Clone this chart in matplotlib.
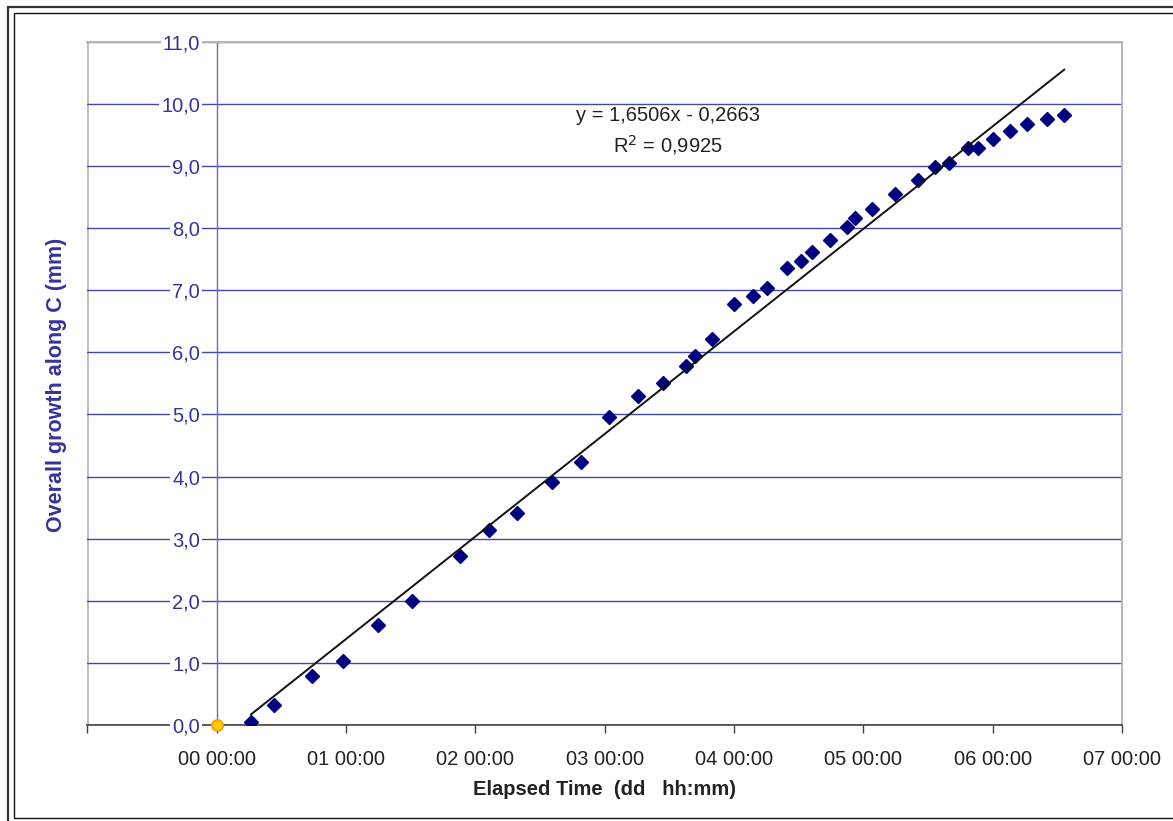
import numpy as np
import matplotlib
matplotlib.use("Agg")
from matplotlib import pyplot as plt
from matplotlib.patches import Rectangle
from matplotlib.ticker import FuncFormatter

plt.rcParams["font.family"] = ["Liberation Sans", "DejaVu Sans"]

# elapsed time in days, growth in mm
days = [0.265, 0.445, 0.737, 0.977, 1.245, 1.508, 1.88, 2.103, 2.32, 2.596,
        2.815, 3.034, 3.256, 3.452, 3.627, 3.70, 3.828, 4.00, 4.145, 4.256,
        4.408, 4.519, 4.606, 4.74, 4.87, 4.937, 5.07, 5.247, 5.42, 5.553,
        5.664, 5.808, 5.888, 6.002, 6.133, 6.267, 6.419, 6.553]
growth = [0.05, 0.33, 0.79, 1.035, 1.61, 2.00, 2.72, 3.14, 3.42, 3.91,
          4.24, 4.955, 5.30, 5.51, 5.78, 5.94, 6.21, 6.77, 6.91, 7.04,
          7.35, 7.47, 7.61, 7.80, 8.02, 8.16, 8.31, 8.55, 8.78, 8.99,
          9.05, 9.29, 9.29, 9.44, 9.57, 9.67, 9.76, 9.82]
slope, intercept = 1.6506, -0.2663
r2 = 0.9925
origin = (0.0, 0.0)
yticks = list(range(0, 12))

blue = "#333399"
dark = "#222222"

fig = plt.figure(figsize=(11.73, 8.21), dpi=100)
ax = fig.add_axes([0.0745, 0.1169, 0.882, 0.8323])

# frame around the chart (pixel coords -> figure fraction)
W, H = 1173, 821
fig.patches.append(Rectangle((8 / W, 1 - 830 / H), 1.2, (830 - 7) / H,
                             transform=fig.transFigure, fill=False,
                             edgecolor="#333333", lw=1.6, clip_on=False))
fig.patches.append(Rectangle((14 / W, 1 - 818 / H), 1.2, (818 - 13) / H,
                             transform=fig.transFigure, fill=False,
                             edgecolor="#111111", lw=1.0, clip_on=False))

ax.set_xlim(-1, 7)
ax.set_ylim(0, 11)
ax.set_axisbelow(True)

ax.plot(days, growth, linestyle="none", marker="D", markersize=7.5,
        color="#000080", zorder=3)
xt = np.array([days[0], days[-1]])
ax.plot(xt, slope * xt + intercept, color="#111111", lw=1.4, zorder=4)
ax.plot(*origin, marker="o", markersize=8, markerfacecolor="#ffcc00",
        markeredgecolor="#ff9900", markeredgewidth=1.2, clip_on=False, zorder=6)

# gridlines
ax.set_yticks(yticks)
ax.yaxis.grid(True, color="#4646a8", lw=1.0)
ax.tick_params(axis="y", length=0, labelleft=False)

# y tick labels sit on the gridlines with a white box, left of the y axis
for v in yticks:
    ax.annotate(f"{v:.1f}".replace(".", ","), xy=(0, v), xytext=(-12, 0),
                textcoords="offset points", ha="right", va="center_baseline",
                fontsize=14.5, color=blue, zorder=5, annotation_clip=False,
                bbox=dict(facecolor="white", edgecolor="none", pad=1.5))

# spines
ax.spines["left"].set_position(("data", 0))
ax.spines["left"].set_color("#6a6ab8")
ax.spines["left"].set_linewidth(1.0)
ax.spines["bottom"].set_color("#404040")
ax.spines["bottom"].set_linewidth(1.2)
for s in ["top", "right"]:
    ax.spines[s].set_color("#b4b4c4")
    ax.spines[s].set_linewidth(1.4)
ax.axvline(-1, color="#c0c0c0", lw=2.2, zorder=0)

ax.set_xticks(np.arange(-1, 8, 1))
ax.xaxis.set_major_formatter(FuncFormatter(lambda v, p: "" if v < 0 else f"{int(round(v)):02d} 00:00"))
ax.tick_params(axis="x", direction="out", length=6, width=1, color="#404040",
               pad=12, labelsize=14.5, labelcolor=dark)

ax.set_xlabel("Elapsed Time  (dd   hh:mm)", fontsize=14.5, fontweight="bold",
              color=dark, labelpad=8)
fig.text(57 / W, 1 - 385 / H, "Overall growth along C (mm)", rotation=90,
         fontsize=15.5, fontweight="bold", color=blue, ha="center", va="center")

ax.text(3.49, 9.82, f"y = {slope:.4f}x - {abs(intercept):.4f}".replace(".", ","),
        fontsize=14.5, color=dark, ha="center", va="center")
ax.text(3.49, 9.34, r"R$^2$ = " + f"{r2:.4f}".replace(".", ","),
        fontsize=14.5, color=dark, ha="center", va="center")

fig.savefig("out.png", dpi=100)
